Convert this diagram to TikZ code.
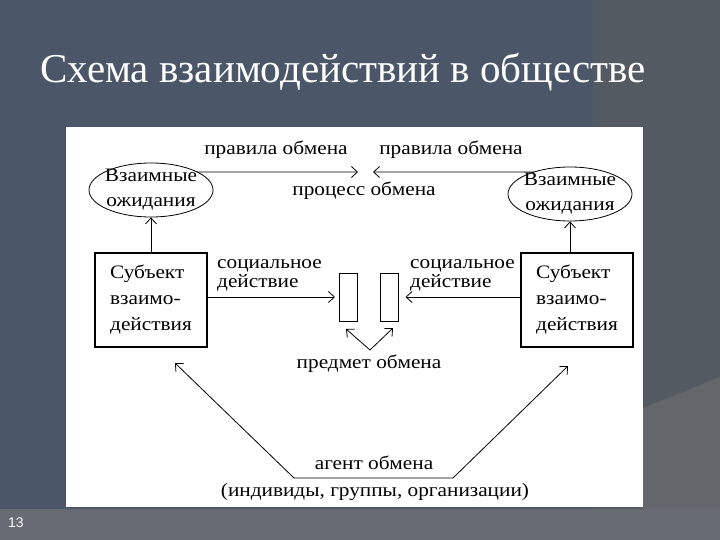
\documentclass[tikz,border=0pt]{standalone}
\usepackage{fontspec}
\setmainfont{Liberation Serif}
\newfontfamily\titlefont{Liberation Serif}
\newfontfamily\pagefont{Liberation Sans}
\newfontfamily\schemefont[FakeStretch=1.12]{Liberation Serif}
\usetikzlibrary{calc,intersections,arrows.meta,shapes.geometric}
\definecolor{slate}{HTML}{4B5769}
\definecolor{slateright}{HTML}{545A61}
\definecolor{slatecorner}{HTML}{63676B}
\definecolor{slatefoot}{HTML}{676B73}

\begin{document}
\begin{tikzpicture}[x=1pt,y=-1pt,
  txt/.style={font=\schemefont\fontsize{19}{25}\selectfont,inner sep=0pt},
  expect/.style={txt,draw,ellipse,line width=0.8pt,minimum width=124pt,minimum height=54pt,
    inner xsep=-4pt,inner ysep=-3pt,align=center},
  subject/.style={txt,draw,line width=1.2pt,minimum width=112pt,minimum height=94pt,
    align=left,font=\schemefont\fontsize{19}{26}\selectfont},
  item/.style={draw,line width=1pt,minimum width=18pt,minimum height=48pt,inner sep=0pt},
  arr/.style={-{Straight Barb[length=6pt,width=11pt]},line width=0.8pt},
  twoarr/.style={{Straight Barb[length=6pt,width=11pt]}-{Straight Barb[length=6pt,width=11pt]},line width=0.8pt}]
      \useasboundingbox(0,0)rectangle(720,540);
      \fill[slate](0,0)rectangle(720,540);
      \fill[slateright](593,0)rectangle(720,540);
      \fill[slatecorner](643,408)--(720,377)--(720,540)--(643,540)--cycle;
      \fill[slatefoot](0,509)rectangle(720,540);
      \fill[white](66,127)rectangle(643,507);
      \node[anchor=base west,text=white,inner sep=0pt,font=\titlefont\fontsize{41}{48}\selectfont](title) at (40,83){Схема взаимодействий в обществе};
      \node[anchor=base west,text=white,inner sep=0pt,font=\pagefont\fontsize{14}{16}\selectfont](page) at (8,527){13};
      \node[expect,name path=lexpb](lexp) at (151,190){Взаимные\\ожидания};
      \node[expect,name path=rexpb](rexp) at (570,194){Взаимные\\ожидания};
      \node[subject](lsub) at (151,300){Субъект\\взаимо-\\действия};
      \node[subject](rsub) at (577,300){Субъект\\взаимо-\\действия};
      \node[item](lobj) at (348.5,297){};
      \node[item](robj) at (389,297){};
      \coordinate(ltip) at (358,172);
      \coordinate(rtip) at (373,172);
      \coordinate(vx) at (370,350);
      \coordinate(lvt) at (346,329);
      \coordinate(rvt) at (393,328);
      \coordinate(aleft) at (294,478);
      \coordinate(aright) at (453,478);
      \coordinate(ltop) at (175,363);
      \coordinate(rtop) at (568,366);
      \path[name path=rules](lexp.center|-ltip)--(rexp.center|-rtip);
      \path[name intersections={of=rules and lexpb,by={ls}}];
      \path[name intersections={of=rules and rexpb,by={rs}}];
      \draw[arr](ls)--(ltip);
      \draw[arr](rs)--(rtip);
      \draw[arr](lsub.north)--(lexp.south);
      \draw[arr](rexp.south|-rsub.north)--(rexp.south);
      \draw[arr](lsub.east|-lobj)--([xshift=-4pt]lobj.west);
      \draw[arr](rsub.west|-robj)--([xshift=7pt]robj.east);
      \draw[arr](vx)--(lvt);
      \draw[arr](vx)--(rvt);
      \draw[twoarr](ltop)--(aleft)--(aright)--(rtop);
      \node[txt,anchor=base](lrule) at (276,155){правила обмена};
      \node[txt,anchor=base](rrule) at (451,155){правила обмена};
      \node[txt,anchor=base](process) at (364,196){процесс обмена};
      \node[txt,anchor=north west,align=left,font=\schemefont\fontsize{19}{19}\selectfont](lact) at (217,259){социальное\\действие};
      \node[txt,anchor=north west,align=left,font=\schemefont\fontsize{19}{19}\selectfont](ract) at (410,259){социальное\\действие};
      \node[txt,anchor=base](subjtxt) at (369,368){предмет обмена};
      \node[txt,anchor=base](agent) at (374,469){агент обмена};
      \node[txt,anchor=base](agents) at (375,496){(индивиды, группы, организации)};
    \end{tikzpicture}
\end{document}
